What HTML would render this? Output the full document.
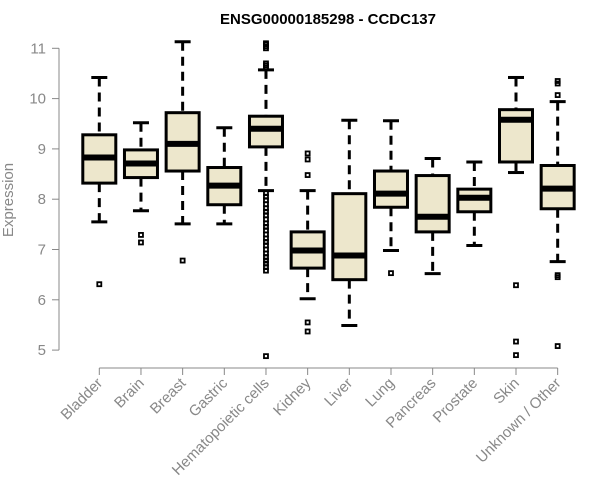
<!DOCTYPE html>
<html><head><meta charset="utf-8"><style>
body{margin:0;background:#fff;}
svg{display:block;font-family:"Liberation Sans",Arial,sans-serif;}
</style></head><body>
<svg id="chart" width="600" height="500">
<text x="328" y="24" text-anchor="middle" font-size="15" font-weight="bold">ENSG00000185298 - CCDC137</text>
<text transform="translate(13,200) rotate(-90)" text-anchor="middle" font-size="15" fill="#888">Expression</text>
<g id="g"></g>
</svg>
<script>
const categories=["Bladder","Brain","Breast","Gastric","Hematopoietic cells","Kidney","Liver","Lung","Pancreas","Prostate","Skin","Unknown / Other"];
const whiskerLow=[7.55,7.77,7.51,7.51,8.17,6.02,5.49,6.98,6.52,7.08,8.53,6.76];
const q1=[8.32,8.43,8.56,7.89,9.04,6.63,6.40,7.84,7.35,7.75,8.74,7.81];
const medians=[8.83,8.71,9.10,8.27,9.40,6.98,6.88,8.11,7.65,8.03,9.58,8.21];
const q3=[9.28,8.98,9.72,8.63,9.65,7.35,8.11,8.56,8.47,8.20,9.78,8.67];
const whiskerHigh=[10.42,9.52,11.13,9.42,10.57,8.17,9.57,9.56,8.81,8.74,10.42,9.94];
const outliers=[[6.31],[7.29,7.14],[6.78],[],
[10.62,10.66,10.70,11.0,11.04,11.08,11.1,8.12,8.05,7.98,7.9,7.82,7.75,7.68,7.6,7.52,7.45,7.38,7.3,7.22,7.15,7.08,7.0,6.92,6.85,6.78,6.72,6.65,6.58,4.88],
[8.91,8.79,8.48,5.55,5.37],[],[6.53],[],[],[6.29,5.17,4.90],[10.35,10.30,10.07,6.49,6.45,5.08]];
const yTicks=[5,6,7,8,9,10,11];
const NS="http://www.w3.org/2000/svg";
const g=document.getElementById('g');
const y=v=>48.3+(11-v)*50.3;
const x=i=>99.3+41.67*i;
function mk(t,a){const e=document.createElementNS(NS,t);for(const k in a)e.setAttribute(k,a[k]);g.appendChild(e);return e;}
let ax=mk('line',{x1:59,x2:59,y1:y(11),y2:y(5),stroke:'#888','stroke-width':1});


yTicks.forEach(t=>{
 let l=mk('line',{x1:52,x2:59,y1:y(t),y2:y(t),stroke:'#888'});
 
 
 let tx=mk('text',{x:46,y:y(t)+5,'text-anchor':'end','font-size':15,fill:'#888'});
 tx.textContent=t;
 
 
});
let xa=mk('line',{x1:x(0),x2:x(11),y1:368,y2:368,stroke:'#888'});


categories.forEach((c,i)=>{
 const cx=x(i),hw=16.5;
 let t=mk('line',{x1:cx,x2:cx,y1:368,y2:375,stroke:'#888'});
 
 
 let lb=mk('text',{x:cx+4,y:384,'text-anchor':'end','font-size':15,fill:'#888',transform:`rotate(-45 ${cx+4} 384)`});
 lb.textContent=c;
 
 
 let w1=mk('line',{x1:cx,x2:cx,y1:y(whiskerHigh[i]),y2:y(q3[i]),stroke:'#000','stroke-width':3,'stroke-dasharray':'9,6'});
 
 
 let w2=mk('line',{x1:cx,x2:cx,y1:y(q1[i]),y2:y(whiskerLow[i]),stroke:'#000','stroke-width':3,'stroke-dasharray':'9,6'});
 
 
 [whiskerHigh[i],whiskerLow[i]].forEach(v=>{
  let cap=mk('line',{x1:cx-8,x2:cx+8,y1:y(v),y2:y(v),stroke:'#000','stroke-width':3});
  
  
 });
 let b=mk('rect',{x:cx-hw,y:y(q3[i]),width:hw*2,height:y(q1[i])-y(q3[i]),fill:'#ede7cc',stroke:'#000','stroke-width':3});
 
 
 let m=mk('line',{x1:cx-hw,x2:cx+hw,y1:y(medians[i]),y2:y(medians[i]),stroke:'#000','stroke-width':6});
 
 
 outliers[i].forEach(v=>{
  let o=mk('rect',{x:cx-2,y:y(v)-2,width:4,height:4,fill:'none',stroke:'#000','stroke-width':1.8});
  
  
 });
});
</script>
</body></html>
